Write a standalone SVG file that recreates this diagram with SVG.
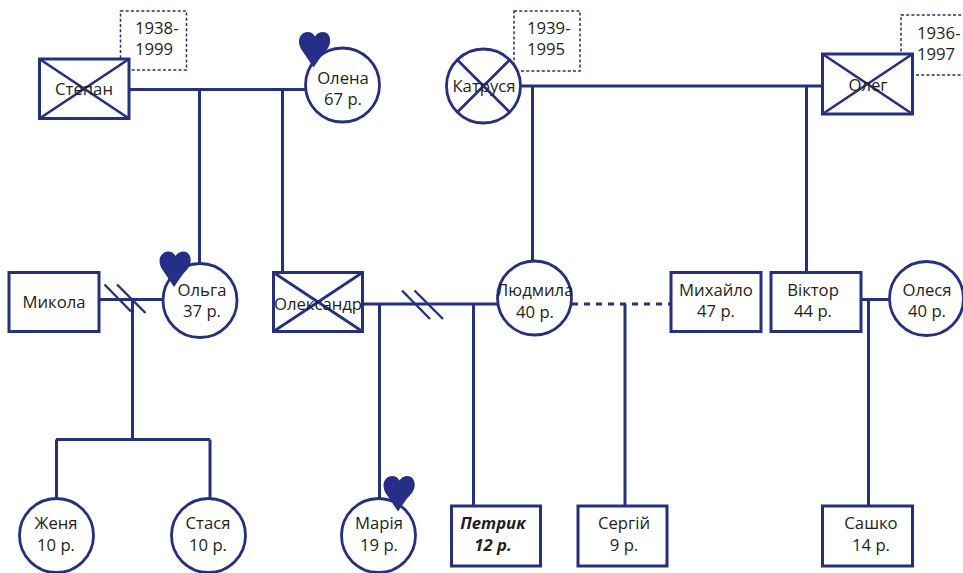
<svg xmlns="http://www.w3.org/2000/svg" width="963" height="573" viewBox="0 0 963 573">
<style>
.n{fill:#fff;stroke:#252f87;stroke-width:3}
.o{fill:#fff;stroke:#252f87;stroke-width:2.8}
.x{fill:none;stroke:#252f87;stroke-width:2.7}
.c{fill:none;stroke:#252f87;stroke-width:3}
.s{fill:none;stroke:#252f87;stroke-width:2.4}
.d{fill:none;stroke:#252f87;stroke-width:1.5;stroke-dasharray:3 2.2}
.h{fill:#252f87}
text{font-family:"Open Sans","Noto Sans","Liberation Sans",sans-serif;font-size:16.7px;fill:#231f20;text-anchor:middle}
.y{text-anchor:start}
.b{font-weight:700;font-style:italic}
</style>
<defs>
<path id="heart" d="M0 0L-10-15C-13-19-14.500-22-14.500-26C-14.500-31.500-10.500-35.500-6-35.500C-2-35.500 0-33.500 1.500-31C3-33.500 6-35.500 9.500-35.500C14-35.500 17-31.500 16.700-26C16.400-21 13-17 9-13Z"/>
</defs>
<g id="connectors">
<path class="c" d="M129 89.500H305M199.500 89.500V263M282.500 89.500V272"/>
<path class="c" d="M520 86H822M532.500 86V261M806.500 86V272"/>
<path class="c" d="M99 299.500H162M132.500 299.500V439.500M56 439.500H210M56.500 439.500V498M210 439.500V498"/>
<path class="c" d="M362 304H497M379.500 304V498M473.500 304V506"/>
<path class="c" stroke-dasharray="6 6" d="M572 304H671"/>
<path class="c" d="M625 304V506"/>
<path class="c" d="M861 299.500H889M868.500 299.500V506"/>
<path class="s" d="M104.500 284.500L131 311.500M117 284.500L145.500 313"/>
<path class="s" d="M402 290.500L430 319M414.500 290.500L443 319"/>
</g>
<g id="dates-1"><rect class="d" x="120.500" y="11" width="66" height="59"/><text class="y" x="135" y="34">1938-</text><text class="y" x="135" y="55">1999</text></g>
<g id="dates-2"><rect class="d" x="514" y="11" width="66" height="60"/><text class="y" x="527" y="34">1939-</text><text class="y" x="527" y="55">1995</text></g>
<g id="dates-3"><rect class="d" x="901" y="15" width="70" height="60"/><text class="y" x="917" y="39">1936-</text><text class="y" x="917" y="60">1997</text></g>
<g id="stepan"><rect class="n" x="39.500" y="59" width="89.500" height="59.500"/><path class="x" d="M39.500 59L129 118.500M39.500 118.500L129 59"/><text x="84" y="95">Степан</text></g>
<g id="olena"><circle class="o" cx="342.500" cy="85" r="37"/><use class="h" href="#heart" x="313.500" y="67.500"/><text x="343" y="84">Олена</text><text x="343" y="105">67 р.</text></g>
<g id="katrusia"><circle class="o" cx="483.500" cy="86" r="37"/><path class="x" d="M457 59.500L510 112.500M457 112.500L510 59.500"/><text x="484" y="92">Катруся</text></g>
<g id="oleh"><rect class="n" x="822.500" y="54" width="90" height="60"/><path class="x" d="M822.500 54L912.500 114M822.500 114L912.500 54"/><text x="868" y="91">Олег</text></g>
<g id="mykola"><rect class="n" x="9" y="272.500" width="90" height="59"/><text x="54" y="308">Микола</text></g>
<g id="olha"><circle class="o" cx="200" cy="300.500" r="37"/><use class="h" href="#heart" x="174" y="287"/><text x="202" y="296">Ольга</text><text x="202" y="317">37 р.</text></g>
<g id="oleksandr"><rect class="n" x="273.500" y="272.500" width="89" height="59"/><path class="x" d="M273.500 272.500L362.500 331.500M273.500 331.500L362.500 272.500"/><text x="318" y="310">Олександр</text></g>
<g id="liudmyla"><circle class="o" cx="534.500" cy="298" r="37"/><text x="535" y="296">Людмила</text><text x="535" y="318">40 р.</text></g>
<g id="mykhailo"><rect class="n" x="671" y="272.500" width="90" height="59"/><text x="716" y="296">Михайло</text><text x="716" y="317">47 р.</text></g>
<g id="viktor"><rect class="n" x="771" y="272.500" width="90" height="59"/><text x="813" y="296">Віктор</text><text x="813" y="317">44 р.</text></g>
<g id="olesia"><circle class="o" cx="926.500" cy="298.500" r="37"/><text x="927" y="296">Олеся</text><text x="927" y="317">40 р.</text></g>
<g id="zhenia"><circle class="o" cx="56.500" cy="535.500" r="37"/><text x="56" y="529">Женя</text><text x="56" y="551">10 р.</text></g>
<g id="stasia"><circle class="o" cx="208.500" cy="535.500" r="37"/><text x="208" y="529">Стася</text><text x="208" y="551">10 р.</text></g>
<g id="maria"><circle class="o" cx="378.500" cy="535.500" r="37"/><use class="h" href="#heart" x="398" y="511.500"/><text x="379" y="529">Марія</text><text x="379" y="551">19 р.</text></g>
<g id="petryk"><rect class="n" x="451.500" y="506" width="89" height="60"/><text class="b" x="493" y="529">Петрик</text><text class="b" x="493" y="551">12 р.</text></g>
<g id="serhii"><rect class="n" x="578" y="506" width="89" height="60"/><text x="624" y="529">Сергій</text><text x="624" y="551">9 р.</text></g>
<g id="sashko"><rect class="n" x="822.500" y="506" width="90" height="60"/><text x="871" y="529">Сашко</text><text x="871" y="551">14 р.</text></g>
</svg>
